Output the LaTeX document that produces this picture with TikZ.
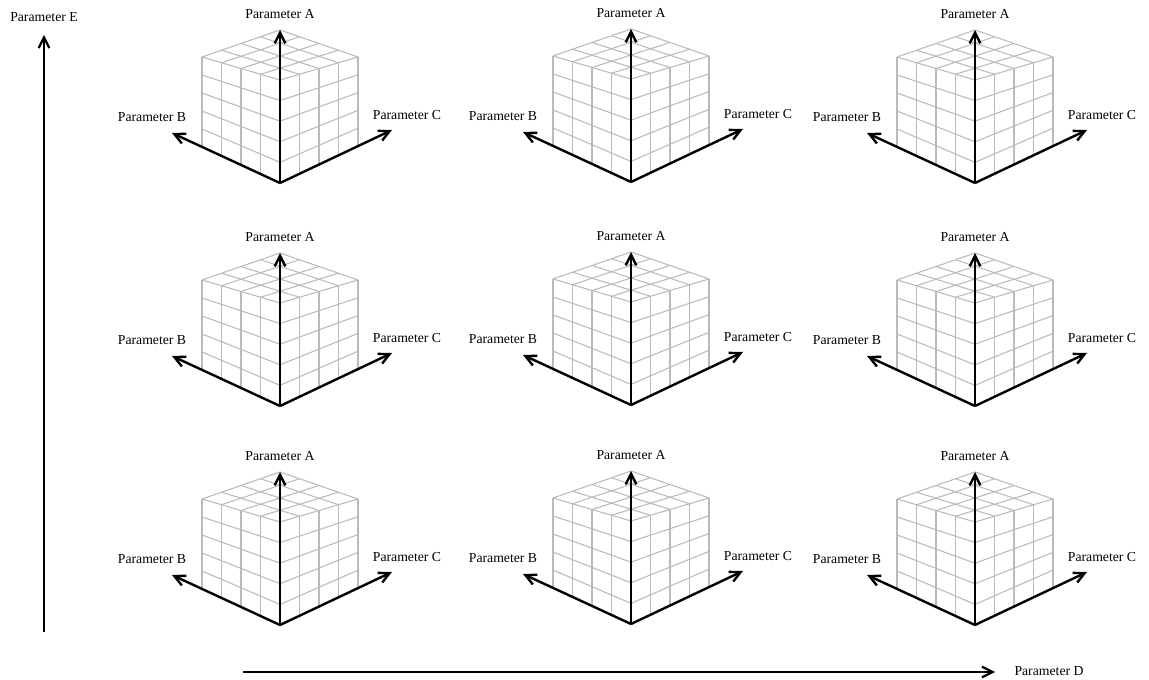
\documentclass[tikz,border=0pt]{standalone}
\usepackage{fontspec}
\setmainfont{Liberation Serif}
\usetikzlibrary{calc,arrows.meta}

\begin{document}
\begin{tikzpicture}[x=0.75pt,y=-0.75pt]
\tikzstyle{grid}=[draw=black!27,line width=0.8pt]
\tikzstyle{axis}=[line width=1.8pt,-{Straight Barb[length=8pt,width=8pt]}]
\tikzstyle{param}=[font=\fontsize{10.3}{12}\selectfont,inner sep=1pt]
\useasboundingbox (0,0) rectangle (1149,680);
% nine cubes, one per D/E setting
\foreach \cx/\cy [count=\n] in {280/183,631/182,975/183,280/406,631/405,975/406,280/625,631/624,975/625}{
\begin{scope}[shift={(\cx,\cy)}]
\coordinate (o\n) at (0,0);
\coordinate (l) at (-78,-126);
\coordinate (f) at (0,-103);
\coordinate (r) at (78,-126);
\coordinate (t) at (0,-153);
\coordinate (bl) at (-78,-36);
\coordinate (br) at (78,-37);
% top face
\foreach \i in {0,...,4}{
\draw[grid] ($(l)!\i/4!(t)$) -- ($(f)!\i/4!(r)$);
\draw[grid] ($(l)!\i/4!(f)$) -- ($(t)!\i/4!(r)$);
}
% side faces
\foreach \i in {0,...,4}{
\draw[grid] ($(l)!\i/4!(f)$) -- ($(bl)!\i/4!(o\n)$);
\draw[grid] ($(f)!\i/4!(r)$) -- ($(o\n)!\i/4!(br)$);
}
\foreach \j in {1,...,4}{
\draw[grid] ($(l)!\j/5!(bl)$) -- ($(f)!\j/5!(o\n)$);
\draw[grid] ($(f)!\j/5!(o\n)$) -- ($(r)!\j/5!(br)$);
}
\coordinate (a\n) at (0,-153);
\coordinate (b\n) at (-108,-50);
\coordinate (c\n) at (112,-53);
\draw[axis] (o\n) -- (a\n);
\draw[axis] (o\n) -- (b\n);
\draw[axis] (o\n) -- (c\n);
\node[param] (pa\n) at (0,-169) {Parameter A};
\node[param] (pb\n) at (-128,-66) {Parameter B};
\node[param] (pc\n) at (127,-68) {Parameter C};
\end{scope}
}
\coordinate (e0) at (44,632);
\coordinate (e1) at (44,35);
\node[param] (pe) at (44,17) {Parameter E};
\draw[axis,line width=1.6pt] (e0) -- (e1);
\coordinate (d0) at (243,672);
\coordinate (d1) at (995,672);
\node[param] (pd) at (1049,671) {Parameter D};
\draw[axis,line width=1.6pt] (d0) -- (d1);
\end{tikzpicture}
\end{document}
